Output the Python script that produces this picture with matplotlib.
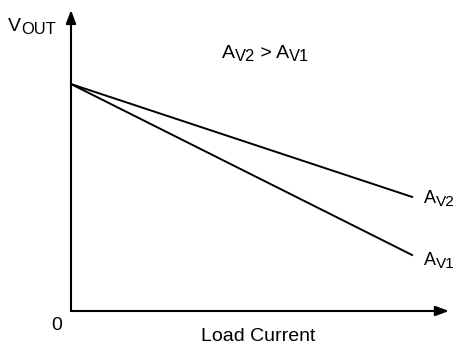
import matplotlib
matplotlib.use("Agg")
from matplotlib import pyplot as plt

plt.rcParams["font.family"] = ["Liberation Sans", "DejaVu Sans"]

# load current (relative) and output voltage (relative)
load_current = [0.0, 0.90]
vout_av1 = [0.754, 0.186]
vout_av2 = [0.754, 0.379]

fig = plt.figure(figsize=(4.6, 3.44), dpi=100)
ax = fig.add_axes([71 / 460, 33 / 344, 379 / 460, 301 / 344])
ax.set_xlim(0, 1)
ax.set_ylim(0, 1)
ax.axis("off")


def sub_text(x, y, parts, size):
    # parts: list of (string, is_subscript); pieces are chained left to right
    prev = ax.text(x, y, parts[0][0], fontsize=size, ha="left", va="baseline")
    for txt, is_sub in parts[1:]:
        prev = ax.annotate(txt, xy=(1, y), xycoords=(prev, "axes fraction"),
                           xytext=(0, -2.3 if is_sub else 0), textcoords="offset points",
                           fontsize=size * 0.85 if is_sub else size,
                           ha="left", va="baseline", annotation_clip=False)
    return prev


# axes with arrow heads
arrow = dict(arrowstyle="-|>,head_length=0.8,head_width=0.3", color="black", lw=1.5,
             shrinkA=0, shrinkB=0, mutation_scale=10)
ax.annotate("", xy=(0.997, 0), xytext=(0, 0), arrowprops=arrow, annotation_clip=False)
ax.annotate("", xy=(0, 1.0), xytext=(0, 0), arrowprops=arrow, annotation_clip=False)

ax.plot(load_current, vout_av1, color="black", lw=1.4, clip_on=False)
ax.plot(load_current, vout_av2, color="black", lw=1.4, clip_on=False)

sub_text(0.931, 0.359, [("A", False), ("V2", True)], 13)
sub_text(0.931, 0.153, [("A", False), ("V1", True)], 13)
sub_text(0.398, 0.8405, [("A", False), ("V2", True), (" > A", False), ("V1", True)], 14)
sub_text(-0.166, 0.930, [("V", False), ("OUT", True)], 14)

ax.text(-0.024, -0.063, "0", fontsize=14, ha="right", va="baseline")
ax.text(0.495, -0.0997, "Load Current", fontsize=14, ha="center", va="baseline")

fig.savefig("out.png", dpi=100)
